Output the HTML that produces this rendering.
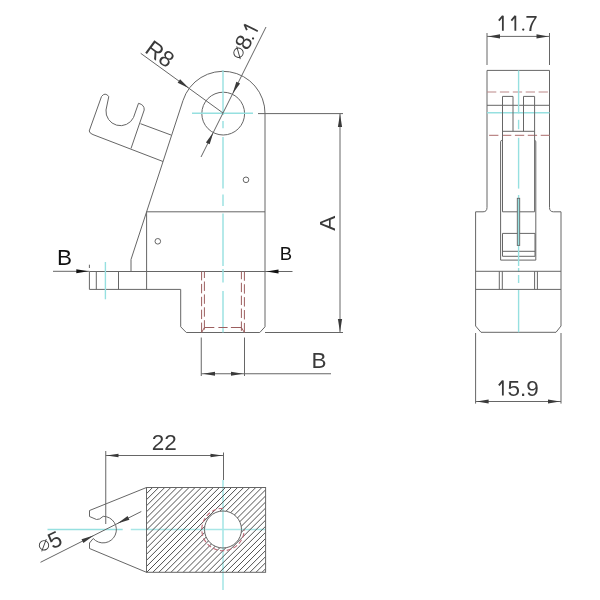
<!DOCTYPE html>
<html><head><meta charset="utf-8"><style>
html,body{margin:0;padding:0;background:#fff;width:600px;height:600px;overflow:hidden}
svg{display:block;will-change:transform}
text{font-family:"Liberation Sans",sans-serif}
</style></head><body>
<svg width="600" height="600" viewBox="0 0 600 600">
<rect width="600" height="600" fill="#fff"/>
<path d="M131,271.5 L131,259.5 L183,100.5 A42,42 0 0 1 265,113.5 L265,326.8 L259.8,332.5 L186.3,332.5 L180.7,326.8 L180.7,289.4 L89.4,289.4 L89.4,271.5 L265,271.5" stroke="#666" stroke-width="1.0" fill="none"/>
<line x1="146.60" y1="211.80" x2="265.00" y2="211.80" stroke="#666" stroke-width="1.0"/>
<line x1="146.60" y1="211.80" x2="146.60" y2="289.50" stroke="#666" stroke-width="1.0"/>
<line x1="96.30" y1="271.50" x2="96.30" y2="289.50" stroke="#666" stroke-width="1.0"/>
<line x1="118.50" y1="271.50" x2="118.50" y2="289.50" stroke="#666" stroke-width="1.0"/>
<line x1="89.40" y1="264.70" x2="89.40" y2="268.00" stroke="#666" stroke-width="1.0"/>
<circle cx="223.2" cy="113.6" r="21.4" stroke="#666" stroke-width="1.0" fill="none"/>
<circle cx="246" cy="179.8" r="2.8" stroke="#666" stroke-width="1.0" fill="none"/>
<circle cx="157.8" cy="241.3" r="2.8" stroke="#666" stroke-width="1.0" fill="none"/>
<path d="M89.2,131 L101.5,96.5 Q105,91.8 108.8,96.5 L106,110 A14.5,14.5 0 0 0 133.5,117.5 L138.5,103.3 Q144.6,104.8 144.2,110 L131,148.5 M89.2,131 Q89.8,133.6 93,134.6 L163,161.5 M140.5,123.7 L171,135" stroke="#666" stroke-width="1.0" fill="none"/>
<line x1="223.00" y1="70.30" x2="223.00" y2="115.00" stroke="#96e0e0" stroke-width="1.4"/>
<line x1="223.00" y1="121.00" x2="223.00" y2="128.30" stroke="#96e0e0" stroke-width="1.4"/>
<line x1="223.00" y1="137.00" x2="223.00" y2="188.50" stroke="#96e0e0" stroke-width="1.4"/>
<line x1="223.00" y1="194.50" x2="223.00" y2="206.00" stroke="#96e0e0" stroke-width="1.4"/>
<line x1="223.00" y1="213.50" x2="223.00" y2="266.00" stroke="#96e0e0" stroke-width="1.4"/>
<line x1="223.00" y1="269.00" x2="223.00" y2="282.50" stroke="#96e0e0" stroke-width="1.4"/>
<line x1="223.00" y1="291.00" x2="223.00" y2="332.50" stroke="#96e0e0" stroke-width="1.4"/>
<line x1="192.00" y1="113.30" x2="253.00" y2="113.30" stroke="#96e0e0" stroke-width="1.4"/>
<line x1="105.40" y1="262.00" x2="105.40" y2="299.30" stroke="#96e0e0" stroke-width="1.4"/>
<line x1="201.6" y1="271.5" x2="201.6" y2="332.5" stroke="#9c5e5e" stroke-width="1" stroke-dasharray="9.4,3.5" stroke-dashoffset="0.5"/>
<line x1="204.4" y1="271.5" x2="204.4" y2="332.5" stroke="#9c5e5e" stroke-width="1" stroke-dasharray="9.4,3.5" stroke-dashoffset="2.9"/>
<line x1="241.4" y1="271.5" x2="241.4" y2="332.5" stroke="#9c5e5e" stroke-width="1" stroke-dasharray="9.4,3.5" stroke-dashoffset="1.65"/>
<line x1="244.4" y1="271.5" x2="244.4" y2="332.5" stroke="#9c5e5e" stroke-width="1" stroke-dasharray="9.4,3.5" stroke-dashoffset="0.15"/>
<path d="M204.4,327.5 H214.3 M218.4,327.5 H227.6 M230.9,327.5 H241.4 M201.6,332.5 L204.4,327.5 M244.4,332.5 L241.4,327.5" stroke="#9c5e5e" stroke-width="1" fill="none"/>
<line x1="258.00" y1="113.60" x2="343.00" y2="113.60" stroke="#666" stroke-width="1.0"/>
<line x1="265.00" y1="332.50" x2="343.00" y2="332.50" stroke="#666" stroke-width="1.0"/>
<line x1="340.00" y1="113.60" x2="340.00" y2="332.50" stroke="#666" stroke-width="1.0"/>
<polygon points="340.00,114.00 342.10,127.00 337.90,127.00" fill="#3a3a3a"/>
<polygon points="340.00,332.00 337.90,319.00 342.10,319.00" fill="#3a3a3a"/>
<text x="335.00" y="223.25" font-size="22.5" fill="#3a3a3a" text-anchor="middle" transform="rotate(-90 335 223.25)">A</text>
<line x1="201.25" y1="337.50" x2="201.25" y2="376.00" stroke="#666" stroke-width="1.0"/>
<line x1="244.50" y1="337.50" x2="244.50" y2="376.00" stroke="#666" stroke-width="1.0"/>
<line x1="201.25" y1="373.75" x2="331.00" y2="373.75" stroke="#666" stroke-width="1.0"/>
<polygon points="203.00,373.75 215.00,371.65 215.00,375.85" fill="#3a3a3a"/>
<polygon points="243.00,373.75 231.00,375.85 231.00,371.65" fill="#3a3a3a"/>
<text x="319.05" y="367.90" font-size="22.5" fill="#3a3a3a" text-anchor="middle">B</text>
<line x1="53.00" y1="271.30" x2="89.40" y2="271.30" stroke="#666" stroke-width="1.0"/>
<polygon points="88.30,271.30 76.30,273.30 76.30,269.30" fill="#111"/>
<text x="64.60" y="265.40" font-size="22.5" fill="#111" text-anchor="middle">B</text>
<line x1="265.00" y1="271.50" x2="292.50" y2="271.50" stroke="#666" stroke-width="1.0"/>
<polygon points="266.50,271.50 278.50,269.50 278.50,273.50" fill="#111"/>
<text x="285.90" y="259.60" font-size="18.5" fill="#111" text-anchor="middle">B</text>
<line x1="140.70" y1="53.30" x2="223.00" y2="113.00" stroke="#666" stroke-width="1.0"/>
<polygon points="189.00,88.34 177.65,82.70 180.12,79.30" fill="#3a3a3a"/>
<g transform="translate(143.78 51.68) rotate(36.000)">
<text x="0.00" y="0.00" font-size="22.5" fill="#3a3a3a" text-anchor="start">R8</text>
</g>
<line x1="266.00" y1="27.00" x2="201.00" y2="157.00" stroke="#666" stroke-width="1.0"/>
<polygon points="232.62,93.77 236.33,81.65 240.08,83.53" fill="#3a3a3a"/>
<polygon points="213.38,132.23 209.67,144.35 205.92,142.47" fill="#3a3a3a"/>
<g transform="translate(238.50 52.75) rotate(-63.435)">
<circle cx="0" cy="0" r="4.7" stroke="#3a3a3a" stroke-width="0.9" fill="none"/>
<line x1="-4.8" y1="4.4" x2="4.8" y2="-4.4" stroke="#3a3a3a" stroke-width="0.9"/>
<text x="5.40" y="7.60" font-size="22.5" fill="#3a3a3a" text-anchor="start">8</text>
<circle cx="19.3" cy="6.6" r="1.1" fill="#333"/>
<path d="M27.90,7.60 V-7.50 M27.90,-7.40 L23.90,-2.56" stroke="#3a3a3a" stroke-width="1.8" fill="none" stroke-linecap="butt"/>
</g>
<line x1="487.00" y1="33.00" x2="487.00" y2="65.00" stroke="#666" stroke-width="1.0"/>
<line x1="549.50" y1="33.00" x2="549.50" y2="65.00" stroke="#666" stroke-width="1.0"/>
<line x1="487.00" y1="36.40" x2="549.50" y2="36.40" stroke="#666" stroke-width="1.0"/>
<polygon points="488.00,36.40 500.00,34.30 500.00,38.50" fill="#3a3a3a"/>
<polygon points="548.50,36.40 536.50,38.50 536.50,34.30" fill="#3a3a3a"/>
<path d="M502.85,30.80 V15.70 M502.85,15.80 L498.85,20.64" stroke="#3a3a3a" stroke-width="1.8" fill="none" stroke-linecap="butt"/>
<path d="M515.35,30.80 V15.70 M515.35,15.80 L511.35,20.64" stroke="#3a3a3a" stroke-width="1.8" fill="none" stroke-linecap="butt"/>
<circle cx="523.25" cy="29.6" r="1.15" fill="#333"/>
<text x="525.20" y="30.80" font-size="22.5" fill="#3a3a3a" text-anchor="start">7</text>
<path d="M487,207.5 L487,70.4 L549.5,70.4 L549.5,207.5 Q549.5,211.8 553.5,211.8 L561,211.8 L561,326 L556,332.3 L481,332.3 L475.6,326 L475.6,211.8 L483,211.8 Q487,211.8 487,207.5" stroke="#666" stroke-width="1.0" fill="none"/>
<line x1="487.00" y1="92.00" x2="549.50" y2="92.00" stroke="#bc8888" stroke-width="1.2" stroke-dasharray="9.3,3.6"/>
<line x1="487" y1="135.4" x2="549.5" y2="135.4" stroke="#bc8888" stroke-width="1.2" stroke-dasharray="9.3,3.6" stroke-dashoffset="-2.1"/>
<line x1="487.00" y1="105.30" x2="549.50" y2="105.30" stroke="#666" stroke-width="1.0"/>
<line x1="487.00" y1="112.80" x2="549.50" y2="112.80" stroke="#96e0e0" stroke-width="1.4"/>
<path d="M502.5,211.8 L502.5,96.4 L513,96.4 L513,131.3 M523.5,131.3 L523.5,96.4 L534.6,96.4 L534.6,211.8 L502.5,211.8" stroke="#666" stroke-width="1.0" fill="none"/>
<line x1="502.50" y1="131.30" x2="534.60" y2="131.30" stroke="#666" stroke-width="1.0"/>
<path d="M502.5,140.4 L501.8,140.4 Q500.6,140.4 500.6,141.8 L500.6,260.1 L535.8,260.1 L535.8,141.8 Q535.8,140.4 534.6,140.4" stroke="#666" stroke-width="1.0" fill="none"/>
<path d="M502.5,233.4 H535 V256.3 H502.5 Z M502.5,251.3 H535" stroke="#666" stroke-width="1.0" fill="none"/>
<line x1="518.60" y1="70.40" x2="518.60" y2="113.40" stroke="#96e0e0" stroke-width="1.4"/>
<line x1="518.60" y1="119.80" x2="518.60" y2="129.20" stroke="#96e0e0" stroke-width="1.4"/>
<line x1="518.60" y1="137.80" x2="518.60" y2="188.60" stroke="#96e0e0" stroke-width="1.4"/>
<line x1="518.60" y1="195.00" x2="518.60" y2="198.30" stroke="#96e0e0" stroke-width="1.4"/>
<line x1="518.60" y1="246.00" x2="518.60" y2="266.00" stroke="#96e0e0" stroke-width="1.4"/>
<line x1="518.60" y1="268.00" x2="518.60" y2="272.00" stroke="#96e0e0" stroke-width="1.4"/>
<line x1="518.60" y1="275.00" x2="518.60" y2="283.00" stroke="#96e0e0" stroke-width="1.4"/>
<line x1="518.60" y1="289.70" x2="518.60" y2="332.30" stroke="#96e0e0" stroke-width="1.4"/>
<rect x="517.3" y="198.3" width="2.4" height="47.1" fill="#96e0e0" stroke="#666" stroke-width="0.9"/>
<line x1="475.60" y1="271.30" x2="561.00" y2="271.30" stroke="#666" stroke-width="1.0"/>
<line x1="475.60" y1="289.40" x2="561.00" y2="289.40" stroke="#666" stroke-width="1.0"/>
<line x1="499.30" y1="271.30" x2="499.30" y2="289.40" stroke="#666" stroke-width="1.0"/>
<line x1="502.30" y1="271.30" x2="502.30" y2="289.40" stroke="#666" stroke-width="1.0"/>
<line x1="534.60" y1="271.30" x2="534.60" y2="289.40" stroke="#666" stroke-width="1.0"/>
<line x1="537.40" y1="271.30" x2="537.40" y2="289.40" stroke="#666" stroke-width="1.0"/>
<line x1="475.60" y1="333.00" x2="475.60" y2="403.60" stroke="#666" stroke-width="1.0"/>
<line x1="561.00" y1="333.00" x2="561.00" y2="403.60" stroke="#666" stroke-width="1.0"/>
<line x1="475.60" y1="401.50" x2="561.00" y2="401.50" stroke="#666" stroke-width="1.0"/>
<polygon points="476.60,401.50 488.60,399.40 488.60,403.60" fill="#3a3a3a"/>
<polygon points="560.00,401.50 548.00,403.60 548.00,399.40" fill="#3a3a3a"/>
<path d="M502.85,395.60 V380.50 M502.85,380.60 L498.85,385.44" stroke="#3a3a3a" stroke-width="1.8" fill="none" stroke-linecap="butt"/>
<text x="507.50" y="395.60" font-size="22.5" fill="#3a3a3a" text-anchor="start">5.9</text>
<text x="164.35" y="450.20" font-size="22.5" fill="#3a3a3a" text-anchor="middle">22</text>
<line x1="105.75" y1="451.00" x2="105.75" y2="524.00" stroke="#666" stroke-width="1.0"/>
<line x1="223.50" y1="452.50" x2="223.50" y2="480.00" stroke="#666" stroke-width="1.0"/>
<line x1="105.75" y1="455.50" x2="223.50" y2="455.50" stroke="#666" stroke-width="1.0"/>
<polygon points="106.50,455.50 118.50,453.70 118.50,457.30" fill="#3a3a3a"/>
<polygon points="222.50,455.50 210.50,457.30 210.50,453.70" fill="#3a3a3a"/>
<line x1="223.00" y1="480.00" x2="223.00" y2="590.00" stroke="#a8e6e6" stroke-width="1.6"/>
<line x1="130.80" y1="529.50" x2="265.60" y2="529.50" stroke="#a8e6e6" stroke-width="1.6"/>
<defs><clipPath id="hc"><path d="M146.5,487.5 H265.6 V572.3 H146.5 Z M223,529.5 m-18.5,0 a18.5,18.5 0 1,0 37,0 a18.5,18.5 0 1,0 -37,0 Z" clip-rule="evenodd"/></clipPath></defs>
<path d="M27.96,600 L627.96,0 M34.03,600 L634.03,0 M40.10,600 L640.10,0 M46.17,600 L646.17,0 M52.24,600 L652.24,0 M58.31,600 L658.31,0 M64.38,600 L664.38,0 M70.45,600 L670.45,0 M76.52,600 L676.52,0 M82.59,600 L682.59,0 M88.66,600 L688.66,0 M94.73,600 L694.73,0 M100.80,600 L700.80,0 M106.87,600 L706.87,0 M112.94,600 L712.94,0 M119.01,600 L719.01,0 M125.08,600 L725.08,0 M131.15,600 L731.15,0 M137.22,600 L737.22,0 M143.29,600 L743.29,0 M149.36,600 L749.36,0 M155.43,600 L755.43,0 M161.50,600 L761.50,0 M167.57,600 L767.57,0 M173.64,600 L773.64,0 M179.71,600 L779.71,0 M185.78,600 L785.78,0 M191.85,600 L791.85,0 M197.92,600 L797.92,0 M203.99,600 L803.99,0 M210.06,600 L810.06,0 M216.13,600 L816.13,0 M222.20,600 L822.20,0 M228.27,600 L828.27,0 M234.34,600 L834.34,0 M240.41,600 L840.41,0 M246.48,600 L846.48,0 M252.55,600 L852.55,0 M258.62,600 L858.62,0 M264.69,600 L864.69,0 M270.76,600 L870.76,0 M276.83,600 L876.83,0" stroke="#505050" stroke-width="1.0" clip-path="url(#hc)"/>
<rect x="146.5" y="487.5" width="119.1" height="84.8" fill="none" stroke="#666" stroke-width="1.0"/>
<circle cx="223" cy="529.5" r="18.5" stroke="#666" stroke-width="1.0" fill="none"/>
<path d="M223,508.3 A21.2,21.2 0 1,0 244.2,529.5" stroke="#c06a78" stroke-width="1.1" fill="none" stroke-dasharray="4.5,2.5"/>
<line x1="47.50" y1="529.50" x2="122.70" y2="529.50" stroke="#96e0e0" stroke-width="1.4"/>
<path d="M146.5,487.5 L89.5,510.5 L89.5,516.5 L96.5,519.5 Q99.5,520 103.2,516.3 A13.3,13.3 0 1,1 93.2,538.5 L89.5,543 L89.5,548.5 L146.5,572.3" stroke="#666" stroke-width="1.0" fill="none"/>
<line x1="40.50" y1="562.30" x2="141.30" y2="511.50" stroke="#666" stroke-width="1.0"/>
<polygon points="117.38,523.51 127.59,516.01 129.48,519.76" fill="#3a3a3a"/>
<polygon points="93.62,535.49 83.41,542.99 81.52,539.24" fill="#3a3a3a"/>
<g transform="translate(44.00 545.30) rotate(-26.747)">
<circle cx="0" cy="0" r="4.7" stroke="#3a3a3a" stroke-width="0.9" fill="none"/>
<line x1="-4.8" y1="4.4" x2="4.8" y2="-4.4" stroke="#3a3a3a" stroke-width="0.9"/>
<text x="6.00" y="7.75" font-size="22.5" fill="#3a3a3a" text-anchor="start">5</text>
</g>
</svg>
</body></html>
